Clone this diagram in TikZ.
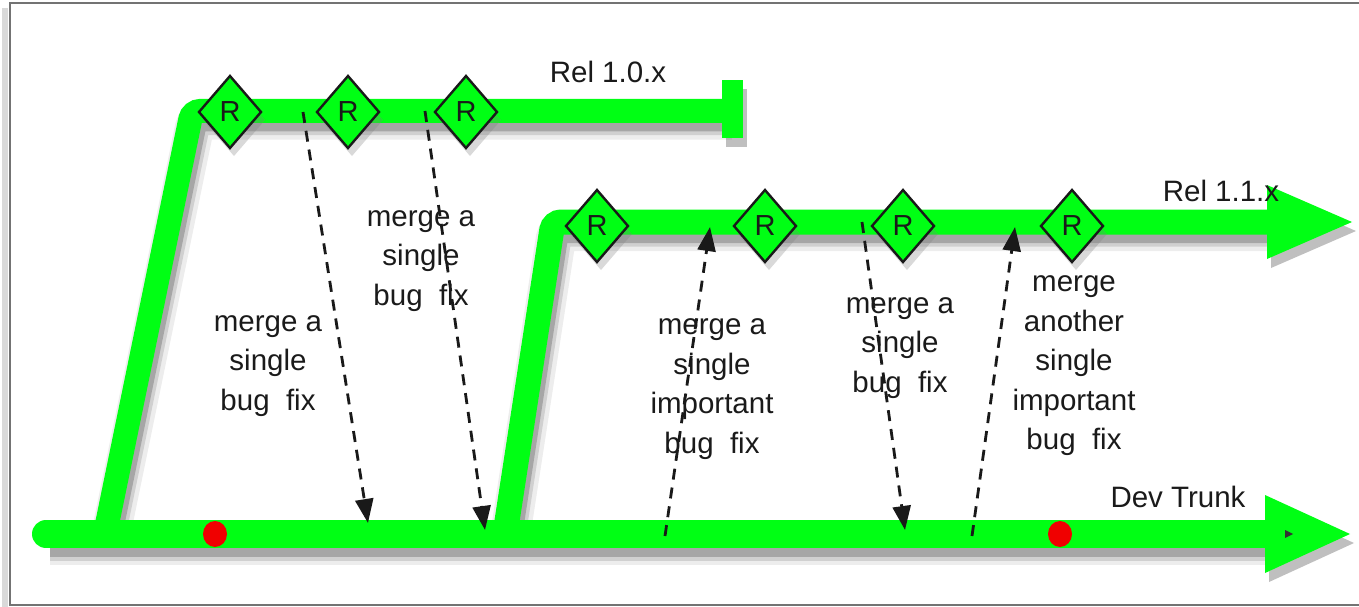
\documentclass[tikz,border=0pt]{standalone}
\usepackage{fontspec}
\setmainfont{Liberation Sans}
\usetikzlibrary{arrows.meta,shapes.geometric,shadows}
\definecolor{trackgreen}{HTML}{00FF14}
\definecolor{txt}{HTML}{1A1A1A}
\definecolor{dotred}{HTML}{F00000}
\newcommand{\trackshadow}[2]{%
  \begin{scope}[transform canvas={shift={(4pt,-9pt)}}]
    \draw[black,opacity=0.07,line width=#1+16pt,rounded corners=8pt] #2;
    \draw[black,opacity=0.12,line width=#1+7pt,rounded corners=8pt] #2;
    \draw[black,opacity=0.2,line width=#1,rounded corners=8pt] #2;
  \end{scope}}
\newcommand{\fillshadow}[1]{%
  \begin{scope}[transform canvas={shift={(4pt,-9pt)}}]
    \fill[black,opacity=0.25] #1;
  \end{scope}}
\tikzset{
  rel/.style={diamond, draw=black!90, line width=2.4pt, fill=trackgreen,
    minimum width=63pt, minimum height=73pt, inner sep=0pt,
    font=\fontsize{29}{29}\selectfont, text=txt,
    drop shadow={opacity=0.3, shadow xshift=4pt, shadow yshift=-8pt}},
  merge/.style={draw=black!90, line width=2.8pt, dash pattern=on 11pt off 8pt,
    -{Triangle[length=24pt,width=18pt]}},
  lbl/.style={align=center, text=txt, font=\fontsize{29.5}{39.5}\selectfont, inner sep=0pt},
  reddot/.style={ellipse, fill=dotred, minimum width=24pt, minimum height=26pt, inner sep=0pt},
  tracktxt/.style={text=txt, font=\fontsize{29.5}{30}\selectfont, inner sep=0pt},
}
\begin{document}
\begin{tikzpicture}[x=1pt,y=-1pt]
\useasboundingbox (0,0) rectangle (1359,607);
% frame
\draw[black!15,line width=6pt] (5,8) -- (5,607);
\draw[black!55,line width=1.6pt] (10,3) rectangle (1380,605);

% shadows of the tracks
\trackshadow{28pt}{(46,534) -- (1268,534)}
\trackshadow{23pt}{(105,534) -- (192,111) -- (728,111)}
\trackshadow{24pt}{(505,534) -- (553,222) -- (1270,222)}
\fillshadow{(1265,495) -- (1350,534) -- (1265,573) -- cycle}
\fillshadow{(1267,185) -- (1352,222) -- (1267,259) -- cycle}
\fillshadow{(722,80) rectangle (743,138)}

% tracks
\draw[trackgreen,line width=28pt,line cap=round] (46,534) -- (1268,534);
\fill[trackgreen] (1265,495) -- (1350,534) -- (1265,573) -- cycle;
\fill[black!80] (1285,530) -- (1293,534) -- (1285,538) -- cycle;
\draw[trackgreen,line width=24pt,rounded corners=8pt] (105,534) -- (192,111) -- (728,111);
\fill[trackgreen] (722,80) rectangle (743,138);
\draw[trackgreen,line width=25pt,rounded corners=8pt] (505,534) -- (553,222) -- (1270,222);
\fill[trackgreen] (1267,185) -- (1352,222) -- (1267,259) -- cycle;

% red dots
\node[reddot] (dot1) at (215,534) {};
\node[reddot] (dot2) at (1060,534) {};

% track labels
\node[tracktxt] (rel10) at (608,72) {Rel 1.0.x};
\node[tracktxt] (rel11) at (1221,191) {Rel 1.1.x};
\node[tracktxt] (trunk) at (1178,497) {Dev Trunk};

% merge end points
\coordinate (a1) at (303,112);  \coordinate (b1) at (368,523);
\coordinate (a2) at (425,111);  \coordinate (b2) at (485,530);
\coordinate (a3) at (665,536);  \coordinate (b3) at (710,227);
\coordinate (a4) at (862,222);  \coordinate (b4) at (905,530);
\coordinate (a5) at (972,536);  \coordinate (b5) at (1015,227);

% labels
\node[lbl] (la) at (268,366) {merge a\\single\\bug\ \ fix};
\node[lbl] (lb) at (421,261) {merge a\\single\\bug\ \ fix};
\node[lbl] (lc) at (712,389) {merge a\\single\\important\\bug\ \ fix};
\node[lbl] (ld) at (900,348) {merge a\\single\\bug\ \ fix};
\node[lbl] (le) at (1074,366) {merge\\another\\single\\important\\bug\ \ fix};

% merges
\draw[merge] (a1) -- (b1);
\draw[merge] (a2) -- (b2);
\draw[merge] (a3) -- (b3);
\draw[merge] (a4) -- (b4);
\draw[merge] (a5) -- (b5);

% releases
\node[rel] (r1) at (230,112) {R};
\node[rel] (r2) at (348,112) {R};
\node[rel] (r3) at (466,112) {R};
\node[rel] (r4) at (597,226) {R};
\node[rel] (r5) at (765,226) {R};
\node[rel] (r6) at (903,226) {R};
\node[rel] (r7) at (1072,226) {R};
\end{tikzpicture}
\end{document}
